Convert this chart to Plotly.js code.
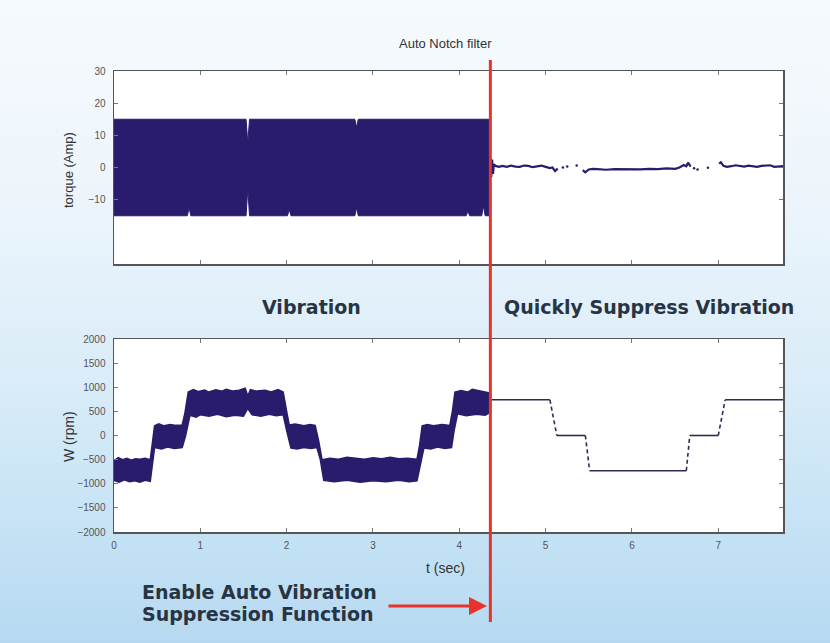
<!DOCTYPE html>
<html>
<head>
<meta charset="utf-8">
<script src="https://cdn.plot.ly/plotly-3.0.1.min.js"></script>
<style>
html,body{margin:0;padding:0;}
body{width:830px;height:643px;overflow:hidden;
background:linear-gradient(to bottom,#f6fafd 0%,#edf5fb 30%,#d9ecf8 60%,#c3e1f4 85%,#b6d9f1 100%);}
#chart{width:830px;height:643px;}
</style>
</head>
<body>
<div id="chart"></div>
<script>
// ---- Data ----
// Enable time of the auto vibration suppression (s)
const enableTime = 4.36;
const secTicks = [0, 1, 2, 3, 4, 5, 6, 7];

// Torque (Amp) vibration band before enabling: upper / lower envelopes
const torqueUpT = [0, 1.53, 1.55, 1.57, 2.79, 2.81, 2.83, 4.36];
const torqueUpV = [15, 15, 7.5, 15, 15, 12.5, 15, 15];
const torqueLoT = [0, 0.85, 0.87, 0.89, 1.53, 1.55, 1.57, 2.01, 2.03, 2.05, 2.79, 2.81, 2.83, 4.08, 4.10, 4.12, 4.26, 4.28, 4.30, 4.36];
const torqueLoV = [-15, -15, -12.5, -15, -15, -6.5, -15, -15, -13, -15, -15, -12.5, -15, -15, -13.5, -15, -15, -12, -15, -15];

// Torque after enabling (suppressed), gaps as null
const torqueAfterT = [4.36, 4.37, 4.38, 4.39, 4.40, 4.42, 4.46, 4.50, 4.55, 4.60, 4.65, 4.70, 4.75, 4.80, 4.85, 4.90, 4.95, 5.00, 5.05, 5.08, 5.11, 5.14, null,
                      5.43, 5.46, 5.50, 5.55, 5.60, 5.70, 5.80, 5.90, 6.00, 6.10, 6.20, 6.30, 6.40, 6.50, 6.55, 6.60, 6.63, 6.65, 6.68, null,
                      7.01, 7.03, 7.06, 7.10, 7.15, 7.20, 7.30, 7.35, 7.45, 7.50, 7.60, 7.65, 7.75];
const torqueAfterV = [3.0, -3.0, 2.5, -2.0, 1.0, 0.5, 0.2, 0.5, 0.2, 0.6, 0.3, 0.2, 0.6, 0.5, 0.1, 0.4, 0.6, 0.2, -0.2, 0.0, -1.1, -0.3, null,
                      -0.8, -1.5, -0.6, -0.4, -0.5, -0.7, -0.5, -0.6, -0.5, -0.6, -0.4, -0.5, -0.3, -0.4, 0.0, 0.8, 0.4, 1.5, 0.3, null,
                      1.2, 1.6, 0.5, 0.2, 0.4, 0.7, 0.3, 0.6, 0.2, 0.5, 0.7, 0.2, 0.4];
const torqueDotsT = [5.20, 5.25, 5.36, 6.72, 6.76, 6.88];
const torqueDotsV = [0.0, 0.3, 0.6, -0.2, -0.6, -0.1];

// Speed W (rpm) vibration band before enabling: upper / lower envelopes
const speedUpT = [0, 0.05, 0.10, 0.15, 0.20, 0.25, 0.30, 0.36, 0.42, 0.44, 0.47, 0.52, 0.58, 0.65, 0.72, 0.79, 0.82, 0.86,
                  0.92, 0.98, 1.05, 1.10, 1.18, 1.25, 1.30, 1.38, 1.45, 1.52, 1.55, 1.58, 1.65, 1.75, 1.82, 1.90, 1.96,
                  2.00, 2.03, 2.10, 2.20, 2.27, 2.33, 2.37, 2.41, 2.50, 2.60, 2.70, 2.80, 2.90, 3.00, 3.10, 3.20, 3.30, 3.40, 3.51,
                  3.54, 3.57, 3.63, 3.70, 3.80, 3.89, 3.92, 3.95, 4.02, 4.10, 4.15, 4.20, 4.28, 4.36];
const speedUpV = [-520, -460, -500, -470, -510, -480, -490, -470, -500, -250, 200, 240, 200, 230, 210, 220, 450, 900,
                  950, 910, 940, 900, 950, 920, 960, 920, 940, 980, 820, 950, 920, 940, 900, 950, 900,
                  500, 220, 240, 200, 230, 210, -100, -500, -470, -490, -450, -470, -490, -460, -480, -450, -480, -470, -490,
                  -200, 200, 230, 200, 230, 210, 500, 900, 930, 900, 960, 940, 910, 880];
const speedLoT = [0, 0.06, 0.12, 0.18, 0.24, 0.30, 0.36, 0.42, 0.44, 0.47, 0.55, 0.62, 0.70, 0.79, 0.83, 0.88,
                  0.95, 1.00, 1.10, 1.20, 1.30, 1.40, 1.50, 1.55, 1.60, 1.70, 1.80, 1.88, 1.96,
                  2.00, 2.05, 2.12, 2.20, 2.28, 2.35, 2.39, 2.43, 2.55, 2.70, 2.85, 3.00, 3.15, 3.30, 3.42, 3.51,
                  3.55, 3.59, 3.67, 3.75, 3.83, 3.91, 3.94, 3.98, 4.08, 4.20, 4.30, 4.36];
const speedLoV = [-930, -970, -920, -960, -940, -970, -930, -950, -700, -250, -280, -240, -270, -250, 0, 420,
                  380, 430, 400, 440, 390, 420, 400, 560, 430, 400, 440, 410, 430,
                  100, -260, -280, -250, -270, -250, -500, -930, -960, -930, -970, -940, -960, -930, -960, -940,
                  -600, -260, -280, -240, -270, -250, 100, 450, 410, 440, 420, 480];

// Speed after enabling: plateaus and transitions
const speedPlateauT = [4.36, 5.05, null, 5.13, 5.46, null, 5.51, 6.63, null, 6.67, 7.00, null, 7.08, 7.75];
const speedPlateauV = [740, 740, null, 0, 0, null, -730, -730, null, 0, 0, null, 740, 740];
const speedRampT = [5.05, 5.13, null, 5.46, 5.51, null, 6.63, 6.67, null, 7.00, 7.08];
const speedRampV = [740, 0, null, 0, -730, null, -730, 0, null, 0, 740];

const torqueTicks = [-10, 0, 10, 20, 30];
const speedTicks = [-2000, -1500, -1000, -500, 0, 500, 1000, 1500, 2000];

// ---- Build traces ----
const navy = '#2a1c6c';
function band(upT, upV, loT, loV) {
  return {
    x: upT.concat(loT.slice().reverse()),
    y: upV.concat(loV.slice().reverse())
  };
}
const tb = band(torqueUpT, torqueUpV, torqueLoT, torqueLoV);
const sb = band(speedUpT, speedUpV, speedLoT, speedLoV);

const traces = [
  {x: tb.x, y: tb.y, xaxis: 'x', yaxis: 'y', type: 'scatter', mode: 'lines', fill: 'toself',
   fillcolor: navy, line: {color: navy, width: 1}, hoverinfo: 'skip'},
  {x: torqueAfterT, y: torqueAfterV, xaxis: 'x', yaxis: 'y', type: 'scatter', mode: 'lines',
   line: {color: navy, width: 2.2}, connectgaps: false, hoverinfo: 'skip'},
  {x: torqueDotsT, y: torqueDotsV, xaxis: 'x', yaxis: 'y', type: 'scatter', mode: 'markers',
   marker: {color: navy, size: 2.5}, hoverinfo: 'skip'},
  {x: sb.x, y: sb.y, xaxis: 'x2', yaxis: 'y2', type: 'scatter', mode: 'lines', fill: 'toself',
   fillcolor: navy, line: {color: navy, width: 1.5}, hoverinfo: 'skip'},
  {x: speedPlateauT, y: speedPlateauV, xaxis: 'x2', yaxis: 'y2', type: 'scatter', mode: 'lines',
   line: {color: '#2c2c52', width: 1.6}, connectgaps: false, hoverinfo: 'skip'},
  {x: speedRampT, y: speedRampV, xaxis: 'x2', yaxis: 'y2', type: 'scatter', mode: 'lines',
   line: {color: '#2c2c52', width: 1.6, dash: '4px,3px'}, connectgaps: false, hoverinfo: 'skip'}
];

const tickFont = {family: 'Liberation Sans, Arial, sans-serif', size: 10, color: '#555'};
const axisBase = {
  showline: true, linecolor: '#555', linewidth: 1.5, mirror: 'ticks',
  ticks: 'inside', ticklen: 4, tickcolor: '#777', tickwidth: 1,
  showgrid: false, zeroline: false, tickfont: tickFont, fixedrange: true
};
const xDom = [114 / 830, 783 / 830];

const red = '#e8332a';
const boldFont = {family: 'DejaVu Sans, sans-serif', size: 19, color: '#283444', weight: 'bold'};
const plainFont = {family: 'Liberation Sans, Arial, sans-serif', size: 13, color: '#333'};
function label(text, px, py, extra) {
  return Object.assign({text: text, xref: 'paper', yref: 'paper', x: px / 830, y: 1 - py / 643,
    xanchor: 'center', yanchor: 'middle', showarrow: false}, extra);
}
const layout = {
  width: 830, height: 643,
  margin: {l: 0, r: 0, t: 0, b: 0},
  paper_bgcolor: 'rgba(0,0,0,0)',
  plot_bgcolor: '#ffffff',
  showlegend: false,
  xaxis: Object.assign({}, axisBase, {domain: xDom, anchor: 'y', range: [0, 7.75],
    tickvals: secTicks, showticklabels: false}),
  yaxis: Object.assign({}, axisBase, {domain: [1 - 264 / 643, 1 - 71 / 643], anchor: 'x',
    range: [-30, 30], tickvals: torqueTicks, ticklabelstandoff: 5}),
  xaxis2: Object.assign({}, axisBase, {domain: xDom, anchor: 'y2', range: [0, 7.75],
    tickvals: secTicks, ticklabelstandoff: 3}),
  yaxis2: Object.assign({}, axisBase, {domain: [1 - 532 / 643, 1 - 339 / 643], anchor: 'x2',
    range: [-2000, 2000], tickvals: speedTicks, ticklabelstandoff: 5}),
  shapes: [
    {type: 'line', xref: 'x', x0: enableTime, x1: enableTime, yref: 'paper',
     y0: 1 - 622 / 643, y1: 1 - 60 / 643, line: {color: red, width: 3}, layer: 'above'}
  ],
  annotations: [
    label('Auto Notch filter', 445, 43, {font: plainFont}),
    label('torque (Amp)', 69, 170, {textangle: -90, font: plainFont}),
    label('W (rpm)', 69, 437, {textangle: -90, font: Object.assign({}, plainFont, {size: 14})}),
    label('t (sec)', 445, 568, {font: Object.assign({}, plainFont, {size: 14})}),
    label('<b>Vibration</b>', 311, 307, {font: boldFont}),
    label('<b>Quickly Suppress Vibration</b>', 649, 307, {font: boldFont}),
    label('<b>Enable Auto Vibration</b>', 140, 592, {xanchor: 'left', font: boldFont}),
    label('<b>Suppression Function</b>', 140, 614, {xanchor: 'left', font: boldFont}),
    {text: '', xref: 'paper', yref: 'paper', x: 487 / 830, y: 1 - 606 / 643,
     ax: -100, ay: 0, showarrow: true, arrowhead: 2, arrowsize: 1.2, arrowwidth: 3, arrowcolor: red}
  ]
};

Plotly.newPlot('chart', traces, layout, {staticPlot: true, displayModeBar: false});
</script>
</body>
</html>
